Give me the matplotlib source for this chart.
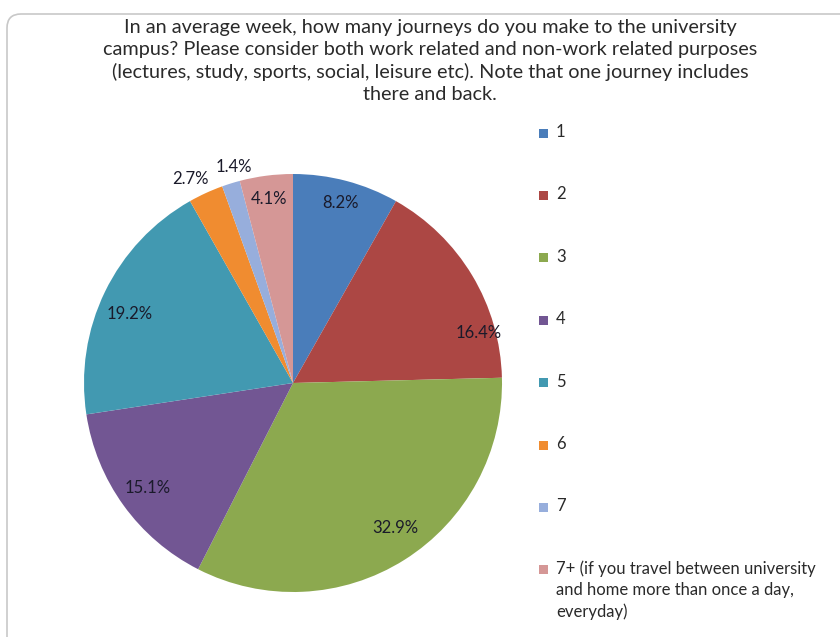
import numpy as np
import matplotlib
matplotlib.use("Agg")
import matplotlib.pyplot as plt
from matplotlib.patches import FancyBboxPatch, Rectangle

plt.rcParams['font.family'] = ['Lato', 'DejaVu Sans']

# survey answers: journeys per week
categories = ["1", "2", "3", "4", "5", "6", "7",
              "7+ (if you travel between university\nand home more than once a day,\neveryday)"]
shares = [8.2, 16.4, 32.9, 15.1, 19.2, 2.7, 1.4, 4.1]
colors = ["#4A7DBA", "#AC4744", "#8CA94F", "#725693", "#4299B1",
          "#F08C30", "#97AEDC", "#D59796"]

title = ("In an average week, how many journeys do you make to the university\n"
         "campus? Please consider both work related and non-work related purposes\n"
         "(lectures, study, sports, social, leisure etc). Note that one journey includes\n"
         "there and back.")

W, H = 840, 637
fig = plt.figure(figsize=(W / 100, H / 100), dpi=100)
ax = fig.add_axes([0, 0, 1, 1])

# rounded chart-area frame
ax.add_patch(FancyBboxPatch((7, -20), 860, H - 7 + 20 - 7,
                            boxstyle="round,pad=0,rounding_size=14",
                            fc="white", ec="#C8C8C8", lw=1.2, zorder=0))

cx, cy, r = 293, H - 383, 209
wedges, _ = ax.pie(shares, colors=colors, startangle=90, counterclock=False,
                   center=(cx, cy), radius=r, frame=True,
                   wedgeprops=dict(linewidth=0))

# data labels: radial distance (fraction of radius) and angular nudge
label_r = [0.89, 0.92, 0.85, 0.86, 0.85, 1.09, 1.07, 0.89]
label_da = [0, -16, 3, 0, 3, 2, -2, 0]
for w, s, lr, da in zip(wedges, shares, label_r, label_da):
    ang = np.deg2rad((w.theta1 + w.theta2) / 2 + da)
    ax.text(cx + lr * r * np.cos(ang), cy + lr * r * np.sin(ang), f"{s}%",
            ha="center", va="center", fontsize=12, color="#1a1a2a")

ax.text(430, H - 61, title, ha="center", va="center", fontsize=14.3,
        color="#2a2a2a", linespacing=1.36)

# legend: square key with text, the long last entry wraps under itself
leg_x, leg_y0, leg_step = 539, 133, 62.4
for i, (lab, col) in enumerate(zip(categories, colors)):
    y = H - (leg_y0 + i * leg_step)
    ax.add_patch(Rectangle((leg_x, y - 4.5), 9, 9, fc=col, ec="none"))
    ax.text(leg_x + 17, y + 9, lab, ha="left", va="top", fontsize=12,
            color="#2a2a2a", linespacing=1.38)

ax.set_xlim(0, W)
ax.set_ylim(0, H)
ax.set_axis_off()

fig.savefig("out.png", dpi=100)
